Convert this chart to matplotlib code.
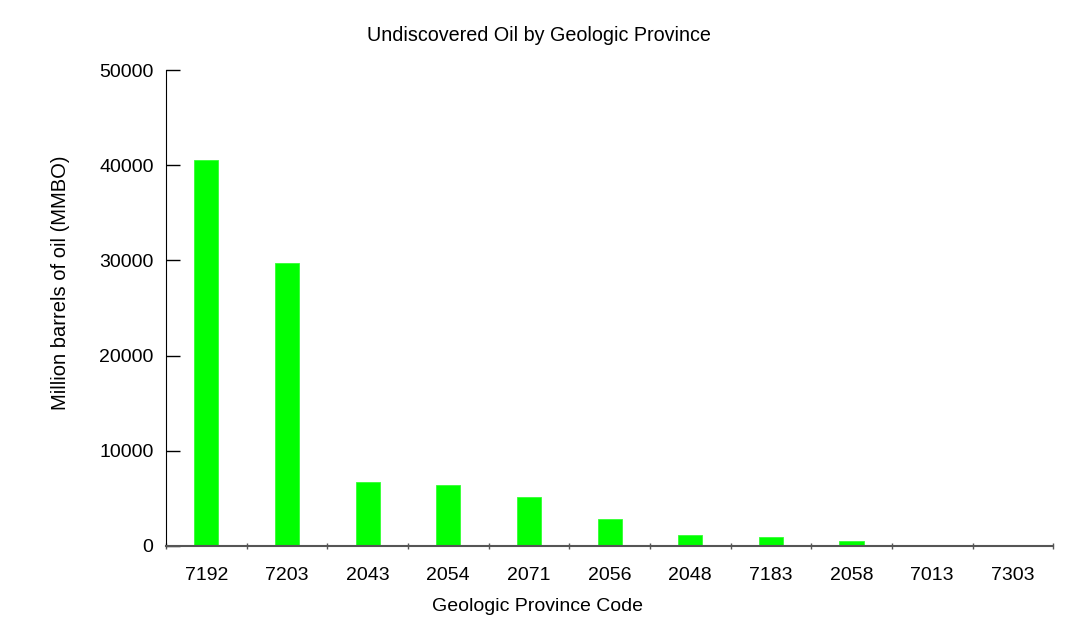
import numpy as np
import matplotlib
matplotlib.use('Agg')
import matplotlib.pyplot as plt

plt.rcParams['font.family'] = ['Liberation Sans', 'DejaVu Sans']

codes = ['7192', '7203', '2043', '2054', '2071', '2056', '2048', '7183', '2058', '7013', '7303']
oil_mmbo = [40500, 29700, 6750, 6400, 5100, 2850, 1150, 900, 500, 0, 0]

fig = plt.figure(figsize=(10.78, 6.43), dpi=100)
ax = fig.add_axes([0.154, 0.151, 0.823, 0.740])

x = np.arange(len(codes))
ax.bar(x, oil_mmbo, width=0.3, color='#00ff00', edgecolor='#33ff33', linewidth=0.6)

ax.set_xlim(-0.5, len(codes) - 0.5)
ax.set_ylim(0, 50000)
ax.set_yticks([0, 10000, 20000, 30000, 40000, 50000])
ax.tick_params(axis='y', direction='in', length=10, width=1, labelsize=14, pad=9)

# category boundaries as small ticks, labels at bar centres
ax.set_xticks(np.arange(-0.5, len(codes), 1.0))
ax.set_xticklabels([])
ax.set_xticks(x, minor=True)
ax.set_xticklabels(codes, minor=True)
ax.tick_params(axis='x', which='major', direction='inout', length=4, width=1, color='#555555')
ax.tick_params(axis='x', which='minor', length=0, labelsize=14, pad=15)

for s in ['top', 'right']:
    ax.spines[s].set_visible(False)
ax.spines['bottom'].set_color('#555555')
ax.spines['bottom'].set_linewidth(1.5)

fig.suptitle('Undiscovered Oil by Geologic Province', y=0.96, fontsize=14.2)
fig.text(0.499, 0.056, 'Geologic Province Code', ha='center', va='center', fontsize=14)
fig.text(0.056, 0.56, 'Million barrels of oil (MMBO)', rotation=90, ha='center', va='center', fontsize=14.5)

fig.savefig('out.png', dpi=100)
